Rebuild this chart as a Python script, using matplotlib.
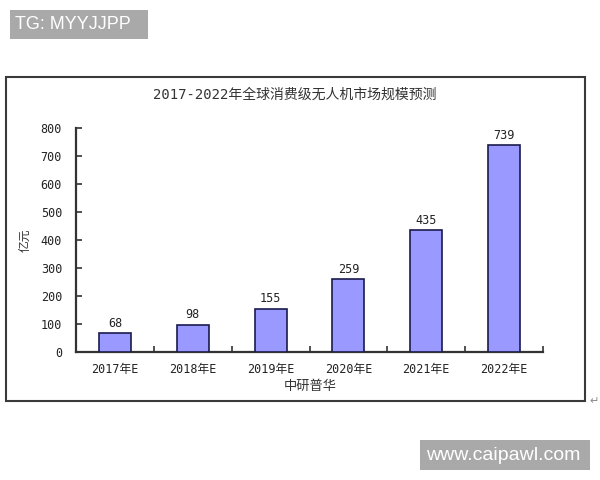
import matplotlib
matplotlib.use("Agg")
import matplotlib.pyplot as plt
from matplotlib.patches import Rectangle
import numpy as np

plt.rcParams['font.family'] = ['DejaVu Sans Mono', 'Noto Sans CJK SC', 'DejaVu Sans']

categories = ["2017年E", "2018年E", "2019年E", "2020年E", "2021年E", "2022年E"]
values = [68, 98, 155, 259, 435, 739]
yticks = [0, 100, 200, 300, 400, 500, 600, 700, 800]
title = "2017-2022年全球消费级无人机市场规模预测"
ylabel = "亿元"
xlabel = "中研普华"

W, H = 600, 480
fig = plt.figure(figsize=(W / 100, H / 100), dpi=100)
fig.patch.set_facecolor("white")

def fx(px):
    return px / W

def fy(py):
    return 1 - py / H

# chart border
fig.patches.append(Rectangle((fx(6), fy(401)), fx(585) - fx(6), fy(77) - fy(401),
                             transform=fig.transFigure, fill=False,
                             edgecolor="#3a3a3a", linewidth=1.5, zorder=0))

ax = fig.add_axes([fx(76), fy(352), fx(543) - fx(76), fy(128) - fy(352)])
x = np.arange(len(categories))
ax.bar(x, values, width=0.41, color="#9999ff", edgecolor="#1a1a4d", linewidth=1.2, zorder=3)
for xi, v in zip(x, values):
    ax.text(xi, v + 12, str(v), ha="center", va="bottom", fontsize=8.5, color="#222222")

ax.set_xlim(-0.5, 5.5)
ax.set_ylim(0, 800)
ax.set_yticks(yticks)
ax.set_yticklabels([str(t) for t in yticks], fontsize=8.5, color="#222222")
ax.set_xticks(x)
ax.set_xticklabels(categories, fontsize=8.5, color="#222222")
ax.set_xticks(np.arange(-0.5, 6, 1.0), minor=True)
ax.tick_params(axis="x", which="major", length=0, pad=8)
ax.tick_params(axis="x", which="minor", direction="in", length=4, width=1.2, color="#333333")
ax.tick_params(axis="y", direction="in", length=4, width=1.2, color="#333333", pad=10)
for s in ["top", "right"]:
    ax.spines[s].set_visible(False)
for s in ["left", "bottom"]:
    ax.spines[s].set_linewidth(1.6)
    ax.spines[s].set_color("#333333")

fig.text(fx(295), fy(95), title, ha="center", va="center", fontsize=10,
         color="#333333")
fig.text(fx(25), fy(240), ylabel, ha="center", va="center", fontsize=8.5,
         rotation=90, color="#333333")
fig.text(fx(310), fy(386), xlabel, ha="center", va="center", fontsize=9.5,
         color="#333333")
fig.text(fx(594), fy(401), "\u21b5", ha="center", va="center", fontsize=8,
         color="#888888", family="DejaVu Sans")

# watermark boxes
fig.patches.append(Rectangle((fx(10), fy(39)), fx(148) - fx(10), fy(10) - fy(39),
                             transform=fig.transFigure, facecolor="#a9a9a9",
                             edgecolor="none", zorder=0))
fig.text(fx(15), fy(24.5), "TG: MYYJJPP", ha="left", va="center", fontsize=13,
         color="white", family="Liberation Sans")
fig.patches.append(Rectangle((fx(420), fy(470)), fx(590) - fx(420), fy(440) - fy(470),
                             transform=fig.transFigure, facecolor="#a9a9a9",
                             edgecolor="none", zorder=0))
fig.text(fx(426), fy(455), "www.caipawl.com", ha="left", va="center", fontsize=14,
         color="white", family="Liberation Sans")

fig.savefig("out.png", dpi=100)
